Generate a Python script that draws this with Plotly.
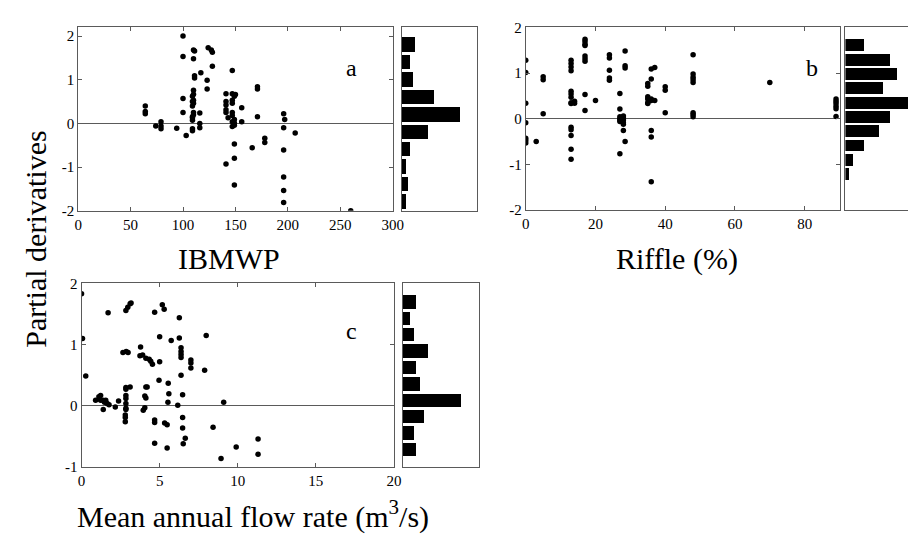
import plotly.graph_objects as go

# ---------------- data ----------------
# Panel a: IBMWP vs partial derivative
a_x = [64, 64, 64, 74, 79, 79, 79, 94,
       100, 100, 100, 100, 103,
       109, 109, 109, 109, 109, 109, 109, 109,
       110, 111, 110, 111, 111, 110, 110, 110, 110, 110, 110,
       116, 116, 116, 117, 123, 123, 124, 127, 128, 128,
       141, 141, 141, 141, 141, 141, 143,
       147, 147, 147, 147, 147, 147, 147, 147,
       149, 150, 149, 149, 149, 149, 149, 149,
       156, 156, 166, 171, 171, 171, 178, 178,
       196, 197, 196, 196, 196, 196, 196, 207, 260]
a_y = [0.40, 0.27, 0.22, -0.06, 0.04, -0.06, -0.12, -0.11,
       2.00, 1.53, 0.57, 0.25, -0.28,
       0.13, 0.07, 0.15, -0.12, -0.17, 0.62, 0.50, 0.40,
       1.68, 1.66, 1.48, 1.09, 1.04, 0.76, 0.67, 0.53, 0.46, 0.25, 0.20,
       0.24, 0.00, -0.10, 1.16, 0.99, 0.79, 1.73, 1.68, 1.63, 1.31,
       0.68, 0.50, 0.42, 0.31, 0.25, -0.93, 0.13,
       1.21, 0.68, 0.53, 0.46, 0.25, 0.18, 0.04, -0.07,
       0.62, 0.66, 0.09, 0.01, -0.04, -0.47, -0.80, -1.41,
       0.36, 0.04, -0.56, 0.84, 0.79, 0.15, -0.34, -0.44,
       0.22, 0.09, -0.10, -0.61, -1.23, -1.54, -1.81, -0.22, -2.00]
a_bins = [-1.8, -1.4, -1.0, -0.6, -0.2, 0.2, 0.6, 1.0, 1.4, 1.8]
a_counts = [2.0, 3.0, 2.0, 4.1, 14.3, 31.8, 17.5, 6.25, 4.1, 7.1]

# Panel b: Riffle (%) vs partial derivative
b_x = [0, 0, 0, 0, 0, 0, 0,
       3,
       5, 5, 5,
       13, 13, 13, 13, 13, 13, 13, 13, 13, 13, 13, 13, 13, 13,
       14, 14,
       17, 17, 17, 17, 17, 17, 17, 17, 17,
       20,
       24, 24, 24, 24, 24,
       27, 27, 27, 27, 27, 27, 27,
       28, 28, 28, 28, 28, 28,
       28.5, 28.5, 28.5, 28.5,
       35, 35, 35, 35, 35, 35,
       36, 36, 36, 36, 36, 36, 36,
       37, 37,
       40, 40, 40,
       48, 48, 48, 48, 48, 48, 48, 48,
       70,
       89, 89, 89, 89, 89, 89]
b_y = [1.28, 1.01, 0.34, -0.09, -0.43, -0.48, -0.53,
       -0.50,
       0.92, 0.85, 0.11,
       1.28, 1.21, 1.13, 1.05, 0.60, 0.54, 0.47, 0.35, 0.33, -0.19, -0.24, -0.37, -0.67, -0.89,
       0.38, 0.34,
       1.74, 1.69, 1.63, 1.60, 1.37, 1.31, 1.26, 0.53, 0.18,
       0.40,
       1.40, 1.33, 1.06, 0.89, 0.84,
       0.55, 0.21, 0.04, 0.00, -0.03, -0.06, -0.77,
       0.06, 0.02, -0.03, -0.09, -0.12, -0.26,
       1.48, 1.16, 1.11, -0.50,
       0.77, 0.71, 0.48, 0.43, 0.35, 0.33,
       1.09, 0.87, 0.43, 0.40, -0.26, -0.40, -1.38,
       1.12, 0.40,
       0.70, 0.62, 0.13,
       1.40, 0.98, 0.91, 0.85, 0.79, 0.13, 0.09, 0.04,
       0.79,
       0.43, 0.38, 0.33, 0.27, 0.22, 0.05]
b_bins = [-1.220, -0.907, -0.594, -0.281, 0.032, 0.345, 0.658, 0.971, 1.284, 1.597]
b_counts = [1.2, 2.3, 5.2, 9.3, 12.3, 18.0, 10.3, 14.2, 12.3, 5.2]

# Panel c: mean annual flow rate vs partial derivative
c_x = [0.00, 0.06, 0.27, 0.90, 1.11, 1.22, 1.22, 1.37, 1.47, 1.55, 1.64, 1.76, 1.39,
       1.70, 2.16, 2.37, 2.65, 2.86, 2.98, 2.84, 2.96, 3.11, 3.17,
       2.84, 2.84, 2.84, 2.84, 2.84, 2.84, 2.84, 2.80, 2.80, 2.80, 3.11,
       3.78, 3.74, 3.91, 4.12, 4.33, 4.43, 4.54, 3.95, 4.05, 4.05, 4.12, 4.12, 4.20,
       4.68, 4.68, 4.68, 4.68, 5.00, 5.00, 4.96, 5.17, 5.29, 5.32, 5.48, 5.48,
       5.55, 5.59, 5.53, 5.74, 6.16, 6.26, 6.26, 6.37, 6.37, 6.37, 6.37, 6.37,
       6.47, 6.47, 6.47, 6.51, 6.64, 7.00, 7.00, 7.00, 7.88, 7.98, 8.42, 8.93,
       9.10, 9.90, 11.30, 11.30]
c_y = [1.83, 1.10, 0.49, 0.09, 0.15, 0.17, 0.09, 0.09, 0.06, 0.09, 0.04, 0.02, -0.06,
       1.52, -0.02, 0.08, 0.87, 0.89, 0.87, 1.56, 1.61, 1.67, 1.68,
       0.30, 0.27, 0.17, 0.12, 0.04, -0.04, -0.06, -0.15, -0.19, -0.26, 0.31,
       0.96, 0.82, 0.83, 0.78, 0.76, 0.73, 0.68, -0.07, -0.03, 0.16, 0.13, 0.31, 0.31,
       1.53, -0.23, -0.27, -0.61, 1.13, 0.72, 0.42, 1.65, 1.58, -0.28, -0.31, -0.69,
       0.37, 0.20, 0.06, 1.07, 0.01, 1.44, 1.11, 0.95, 0.89, 0.84, 0.79, 0.50,
       0.18, -0.19, -0.36, -0.62, -0.53, 0.75, 0.70, 0.62, 0.58, 1.15, -0.35, -0.86,
       0.06, -0.67, -0.54, -0.79]
c_bins = [-0.720, -0.452, -0.184, 0.084, 0.352, 0.620, 0.888, 1.156, 1.424, 1.692]
c_counts = [3.6, 3.1, 5.8, 16.2, 4.8, 3.6, 7.0, 3.1, 2.0, 3.6]

a_xticks = [0, 50, 100, 150, 200, 250, 300]
b_xticks = [0, 20, 40, 60, 80]
c_xticks = [0, 5, 10, 15, 20]
ab_yticks = [-2, -1, 0, 1, 2]
c_yticks = [-1, 0, 1, 2]

# ---------------- figure ----------------
W, H = 916, 535
def px(x):
    return x / W
def py(y):
    return 1 - y / H

SERIF = "'Liberation Serif', 'Times New Roman', 'DejaVu Serif', serif"
LINE = "#5a5a5a"
tickfont = dict(family=SERIF, size=15, color="black")

fig = go.Figure()

def add_scatter(xs, ys, n):
    fig.add_trace(go.Scatter(x=xs, y=ys, mode="markers",
                             marker=dict(color="black", size=5.5),
                             xaxis="x" + ("" if n == 1 else str(n)),
                             yaxis="y" + ("" if n == 1 else str(n)),
                             showlegend=False, hoverinfo="skip"))

def add_hist(bins, counts, width, n):
    fig.add_trace(go.Bar(x=counts, y=bins, orientation="h", width=width,
                         marker=dict(color="black", line=dict(width=0)),
                         xaxis="x" + str(n), yaxis="y" + str(n),
                         showlegend=False, hoverinfo="skip"))

add_scatter(a_x, a_y, 1)
add_hist(a_bins, a_counts, 0.33, 2)
add_scatter(b_x, b_y, 3)
add_hist(b_bins, b_counts, 0.26, 4)
add_scatter(c_x, c_y, 5)
add_hist(c_bins, c_counts, 0.22, 6)

def sc_x(dom, rng, ticks, anchor):
    return dict(domain=dom, range=rng, anchor=anchor, tickmode="array",
                tickvals=ticks, ticktext=[str(t) for t in ticks],
                ticks="inside", ticklen=4, tickcolor=LINE, mirror="ticks",
                showline=True, linecolor=LINE, linewidth=1, showgrid=False,
                zeroline=False, tickfont=tickfont)

def sc_y(dom, rng, ticks, anchor):
    return dict(domain=dom, range=rng, anchor=anchor, tickmode="array",
                tickvals=ticks, ticktext=[str(t) for t in ticks],
                ticks="inside", ticklen=4, tickcolor=LINE, mirror="ticks",
                showline=True, linecolor=LINE, linewidth=1, showgrid=False,
                zeroline=True, zerolinecolor=LINE, zerolinewidth=1,
                tickfont=tickfont)

def h_ax(dom, rng, anchor):
    return dict(domain=dom, range=rng, anchor=anchor, showticklabels=False,
                ticks="", showline=True, mirror=True, linecolor=LINE,
                linewidth=1, showgrid=False, zeroline=False)

ya_dom = [py(200.7), py(11.7)]
yb_dom = [py(200.0), py(11.7)]
yc_dom = [py(465.0), py(275.7)]

fig.update_layout(
    width=W, height=H, margin=dict(l=0, r=0, t=0, b=0),
    paper_bgcolor="white", plot_bgcolor="white",
    font=dict(family=SERIF, color="black"),
    bargap=0,
    xaxis=sc_x([px(67.3), px(387.0)], [0, 300], a_xticks, "y"),
    yaxis=sc_y(ya_dom, [-2, 2.2], ab_yticks, "x"),
    xaxis2=h_ax([px(396.0), px(472.7)], [0, 41.1], "y2"),
    yaxis2=h_ax(ya_dom, [-2, 2.2], "x2"),
    xaxis3=sc_x([px(522.3), px(841.3)], [0, 90], b_xticks, "y3"),
    yaxis3=sc_y(yb_dom, [-2, 2], ab_yticks, "x3"),
    xaxis4=h_ax([px(847.3), 1.0], [0, 18.3], "y4"),
    yaxis4=h_ax(yb_dom, [-2, 2], "x4"),
    xaxis5=sc_x([px(70.7), px(388.3)], [0, 20], c_xticks, "y5"),
    yaxis5=sc_y(yc_dom, [-1, 2], c_yticks, "x5"),
    xaxis6=h_ax([px(397.3), px(475.0)], [0, 21.4], "y6"),
    yaxis6=h_ax(yc_dom, [-1, 2], "x6"),
)

title_font = dict(family=SERIF, size=30, color="black")
letter_font = dict(family=SERIF, size=24, color="black")
ann = [
    dict(text="IBMWP", x=px(221), y=py(250), xanchor="center", yanchor="middle", font=title_font),
    dict(text="Riffle (%)", x=px(676), y=py(250), xanchor="center", yanchor="middle", font=title_font),
    dict(text="Mean annual flow rate (m<sup>3</sup>/s)", x=px(64), y=py(514),
         xanchor="left", yanchor="middle", font=title_font),
    dict(text="Partial derivatives", x=px(24), y=py(230), xanchor="center", yanchor="middle",
         textangle=-90, font=title_font),
    dict(text="a", x=px(345), y=py(54), xanchor="center", yanchor="middle", font=letter_font),
    dict(text="b", x=px(813), y=py(54), xanchor="center", yanchor="middle", font=letter_font),
    dict(text="c", x=px(345), y=py(325), xanchor="center", yanchor="middle", font=letter_font),
]
for a in ann:
    a.update(xref="paper", yref="paper", showarrow=False)
fig.update_layout(annotations=ann)

fig.write_html("out.html")
